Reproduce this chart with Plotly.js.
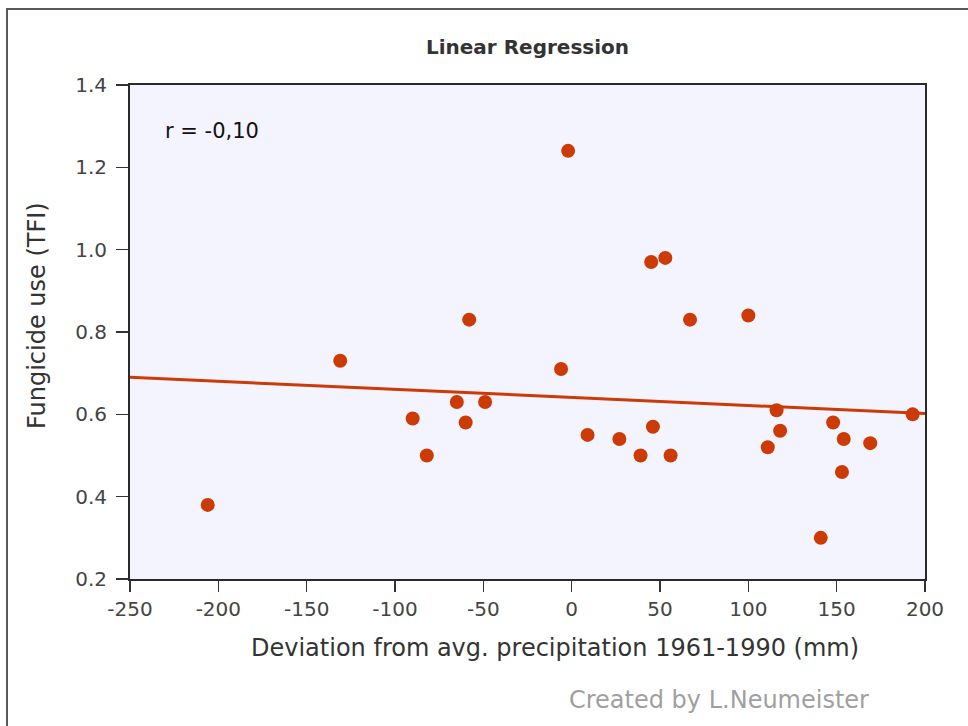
<!DOCTYPE html>
<html>
<head>
<meta charset="utf-8">
<script src="https://cdn.plot.ly/plotly-3.0.1.min.js"></script>
<style>
  html, body { margin: 0; padding: 0; background: #ffffff; }
  #wrap { position: relative; width: 968px; height: 726px; }
  #chart { width: 968px; height: 726px; }
  #frame { position: absolute; left: 6px; top: 8px; right: -10px; bottom: -10px;
           border-top: 2px solid #5a5a5a; border-left: 2px solid #5a5a5a; pointer-events: none; }
</style>
</head>
<body>
<div id="wrap">
  <div id="chart"></div>
  <div id="frame"></div>
</div>
<script>
// Deviation from average precipitation 1961-1990 (mm)
const precipDeviation = [-206, -131, -90, -82, -65, -60, -58, -49, -6, -2,
                         9, 27, 39, 46, 45, 53, 56, 67, 100, 116,
                         118, 111, 148, 154, 169, 153, 141, 193];
// Fungicide use (TFI)
const fungicideTFI = [0.38, 0.73, 0.59, 0.50, 0.63, 0.58, 0.83, 0.63, 0.71, 1.24,
                      0.55, 0.54, 0.50, 0.57, 0.97, 0.98, 0.50, 0.83, 0.84, 0.61,
                      0.56, 0.52, 0.58, 0.54, 0.53, 0.46, 0.30, 0.60];
// Regression line end points
const regX = [-250, 200];
const regY = [0.690, 0.602];
const xTicks = [-250, -200, -150, -100, -50, 0, 50, 100, 150, 200];
const xTickText = ['-250', '-200', '-150', '-100', '-50', '0', '50', '100', '150', '200'];
const yTicks = [0.2, 0.4, 0.6, 0.8, 1.0, 1.2, 1.4];
const yTickText = ['0.2', '0.4', '0.6', '0.8', '1.0', '1.2', '1.4'];

const red = '#cc3a06';
const fontFam = 'DejaVu Sans, Arial, sans-serif';

const traces = [
  {
    x: regX, y: regY, type: 'scatter', mode: 'lines',
    line: { color: red, width: 3 }, hoverinfo: 'skip', showlegend: false
  },
  {
    x: precipDeviation, y: fungicideTFI, type: 'scatter', mode: 'markers',
    marker: { color: red, size: 14, line: { width: 0 } }, showlegend: false
  }
];

const layout = {
  width: 968, height: 726,
  margin: { l: 130, r: 43, t: 85, b: 147 },
  paper_bgcolor: '#ffffff',
  plot_bgcolor: '#f4f4fe',
  font: { family: fontFam, color: '#444444' },
  title: {
    text: 'Linear Regression',
    font: { family: 'DejaVu Sans, Arial, sans-serif', size: 20, color: '#333333', weight: 'bold' },
    x: 0.5, xref: 'paper', xanchor: 'center',
    y: 1 - 47 / 726, yref: 'container', yanchor: 'middle'
  },
  xaxis: {
    range: [-250, 200], tickvals: xTicks, ticktext: xTickText,
    showgrid: false, zeroline: false,
    showline: true, mirror: true, linecolor: '#2a2a2a', linewidth: 2,
    ticks: 'outside', ticklen: 11, tickwidth: 1.5, tickcolor: '#333333',
    ticklabelstandoff: 0,
    tickfont: { size: 20, color: '#444444', family: fontFam }
  },
  yaxis: {
    range: [0.2, 1.4], tickvals: yTicks, ticktext: yTickText,
    showgrid: false, zeroline: false,
    showline: true, mirror: true, linecolor: '#2a2a2a', linewidth: 2,
    ticks: 'outside', ticklen: 12, tickwidth: 1.5, tickcolor: '#333333',
    ticklabelstandoff: 5,
    tickfont: { size: 20, color: '#444444', family: fontFam }
  },
  annotations: [
    {
      text: 'r = -0,10', xref: 'paper', yref: 'paper',
      x: (163 - 130) / 795, y: (579 - 131) / 494, xanchor: 'left', yanchor: 'middle',
      showarrow: false, font: { size: 21, color: '#111111', family: fontFam }
    },
    {
      text: 'Deviation from avg. precipitation 1961-1990 (mm)',
      xref: 'paper', yref: 'paper',
      x: (555 - 130) / 795, y: -(648 - 579) / 494, xanchor: 'center', yanchor: 'middle',
      showarrow: false, font: { size: 24, color: '#333333', family: fontFam }
    },
    {
      text: 'Fungicide use (TFI)', textangle: -90,
      xref: 'paper', yref: 'paper',
      x: (37 - 130) / 795, y: (579 - 316) / 494, xanchor: 'center', yanchor: 'middle',
      showarrow: false, font: { size: 24, color: '#333333', family: fontFam }
    },
    {
      text: 'Created by L.Neumeister',
      xref: 'paper', yref: 'paper',
      x: (871 - 130) / 795, y: -(700 - 579) / 494, xanchor: 'right', yanchor: 'middle',
      showarrow: false, font: { size: 24, color: '#a0a0a0', family: fontFam }
    }
  ]
};

Plotly.newPlot('chart', traces, layout, { displayModeBar: false, staticPlot: true });
</script>
</body>
</html>
